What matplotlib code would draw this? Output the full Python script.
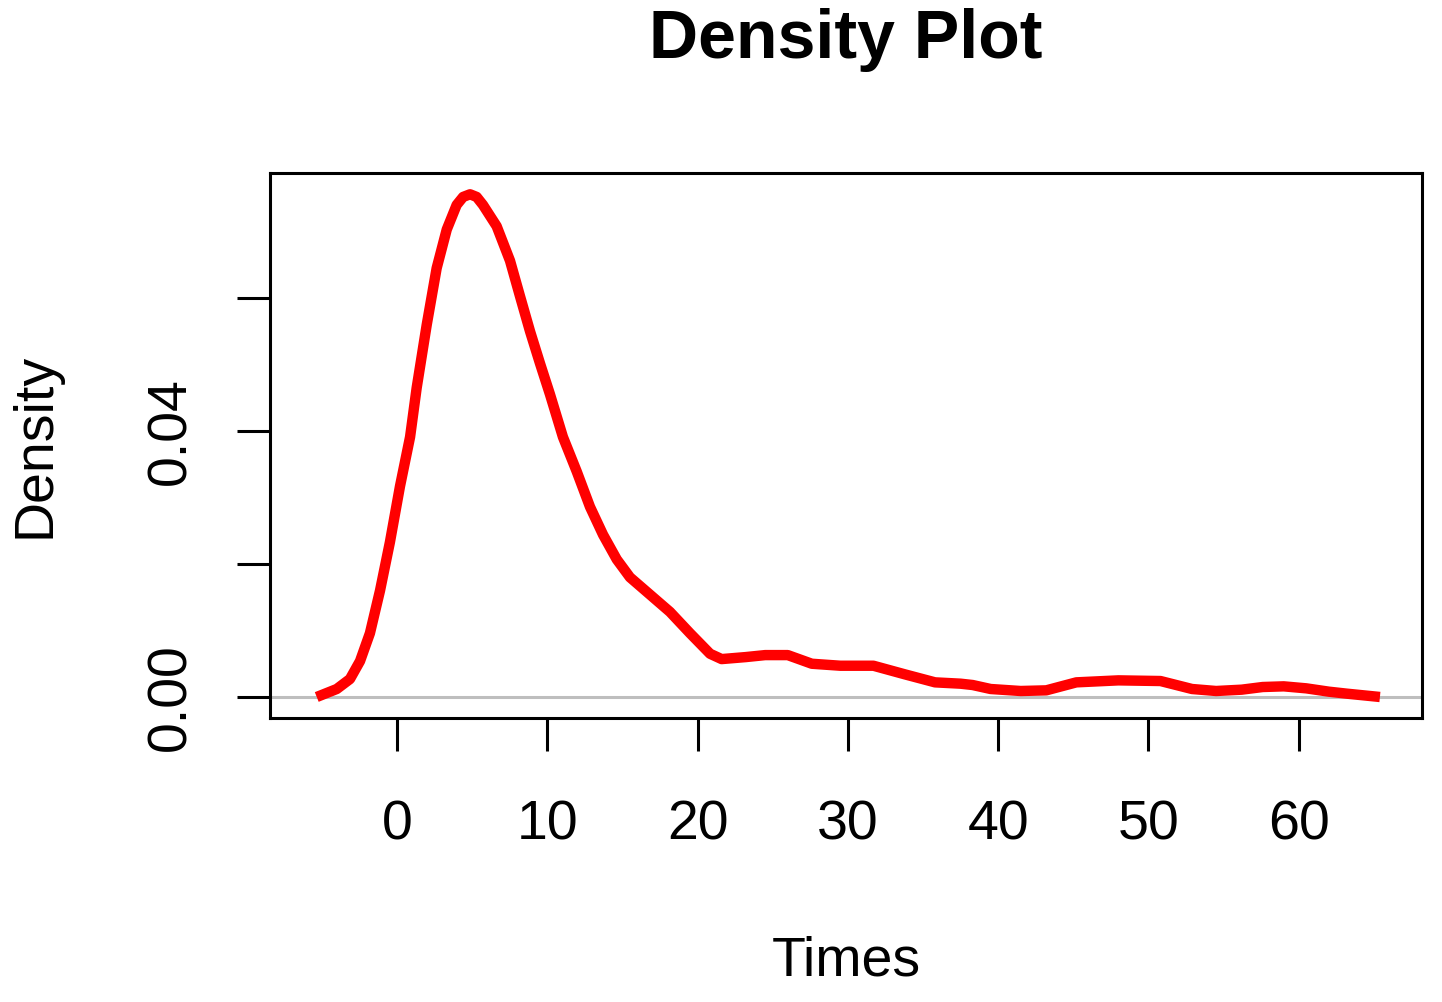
import matplotlib
matplotlib.use("Agg")
import matplotlib.pyplot as plt

plt.rcParams['font.family'] = ['Liberation Sans', 'DejaVu Sans']

times = [-5.34, -4.01, -3.13, -2.46, -1.80, -1.13, -0.47, 0.20, 0.87, 1.31,
         1.98, 2.64, 3.31, 3.97, 4.40, 4.86, 5.30, 5.72, 6.63, 7.52, 8.18, 8.85,
         9.51, 10.18, 11.04, 11.96, 12.84, 13.71, 14.62, 15.50, 16.83, 18.16,
         19.49, 20.83, 21.6, 23.2, 24.5, 26.0, 27.6, 29.5, 31.7, 33.8,
         35.8, 37.5, 38.3, 39.5, 41.5, 43.2, 45.2, 48.0, 50.8, 52.9,
         54.5, 56.2, 57.6, 59.0, 60.5, 62.0, 63.2, 65.4]
density = [0.0, 0.0012, 0.0027, 0.0054, 0.0096, 0.0160, 0.0233, 0.0317, 0.0391, 0.0465,
           0.0560, 0.0645, 0.0703, 0.0740, 0.0752, 0.0756, 0.0752, 0.0740, 0.0708, 0.0656, 0.0603, 0.0550,
           0.0502, 0.0455, 0.0391, 0.0339, 0.0286, 0.0244, 0.0207, 0.0180, 0.0154, 0.0128,
           0.0096, 0.0065, 0.0057, 0.0060, 0.0063, 0.0063, 0.0050, 0.0047, 0.0047, 0.0034,
           0.0022, 0.0020, 0.0018, 0.0012, 0.0009, 0.0010, 0.0022, 0.0025, 0.0024, 0.0012,
           0.0009, 0.0011, 0.0015, 0.0016, 0.0013, 0.0008, 0.0005, 0.0]

xticks = [0, 10, 20, 30, 40, 50, 60]
yticks = [0.00, 0.02, 0.04, 0.06]
ytick_labels = ['0.00', '', '0.04', '']

fig = plt.figure(figsize=(14.42, 10.02), dpi=100)
ax = fig.add_axes([270/1442, 1 - 718/1002, (1422-270)/1442, (718-173)/1002])

ax.axhline(0, color='#bebebe', lw=2.2, zorder=1)
ax.plot(times, density, color='red', lw=7.5, solid_capstyle='butt',
        solid_joinstyle='round', zorder=2)

ax.set_xlim(-8.45, 68.2)
ax.set_ylim(-0.00316, 0.0788)
ax.set_xticks(xticks)
ax.set_xticklabels([str(t) for t in xticks])
ax.set_yticks(yticks)
ax.set_yticklabels(ytick_labels, rotation=90, va='center')

for s in ax.spines.values():
    s.set_linewidth(2.2)
ax.tick_params(axis='both', length=24, width=2.2, labelsize=40, direction='out')
ax.tick_params(axis='x', pad=35)
ax.tick_params(axis='y', pad=28)

fig.text(846/1442, 1 - 40/1002, 'Density Plot', ha='center', va='center',
         fontsize=49, fontweight='bold')
fig.text(846/1442, 1 - 962/1002, 'Times', ha='center', va='center', fontsize=40)
fig.text(35/1442, 1 - 445/1002, 'Density', ha='center', va='center', fontsize=40,
         rotation=90)

fig.savefig('out.png', dpi=100)
